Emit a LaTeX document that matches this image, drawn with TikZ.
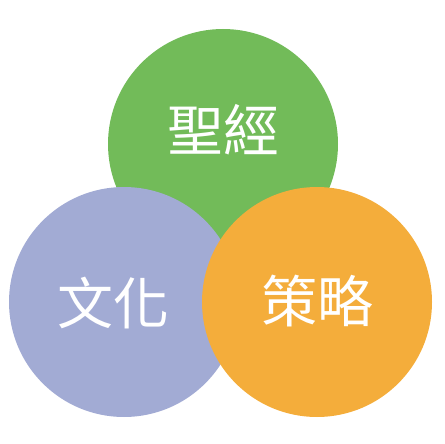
\documentclass[tikz,border=0pt]{standalone}
\usepackage{fontspec}
\newfontfamily\cjk{Noto Sans CJK TC}
\definecolor{cgreen}{HTML}{72BB59}
\definecolor{cpurple}{HTML}{A2ABD4}
\definecolor{corange}{HTML}{F4AD3B}
\begin{document}
\begin{tikzpicture}[x=1pt,y=-1pt,
  blob/.style={circle,minimum size=230pt,inner sep=0pt,draw=none},
  lbl/.style={text=white,font=\cjk\fontsize{56pt}{62pt}\selectfont,inner sep=0pt}]
\useasboundingbox (0,0) rectangle (444,444);
\node[blob,fill=cgreen] (bible) at (223,144) {};
\node[blob,fill=cpurple] (culture) at (124,302) {};
\node[blob,fill=corange] (strategy) at (317,302) {};
\node[lbl] (t1) at (223,130) {聖經};
\node[lbl] (t2) at (113,303) {文化};
\node[lbl] (t3) at (317,301) {策略};
\end{tikzpicture}
\end{document}
